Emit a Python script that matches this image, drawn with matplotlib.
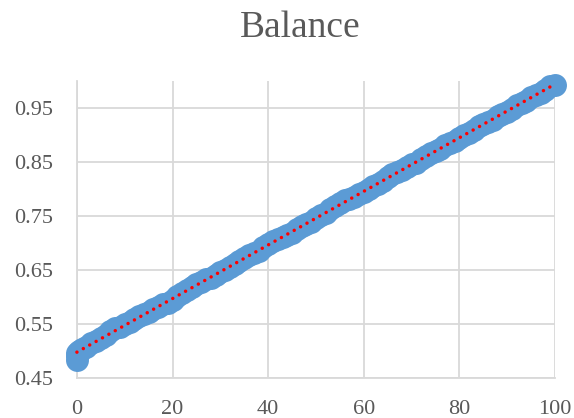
import matplotlib.pyplot as plt
import numpy as np

plt.rcParams['font.family'] = ['Liberation Serif', 'DejaVu Serif']

# balance readings, one per step
steps = list(range(0, 101))
balance = [
    0.497, 0.503, 0.507, 0.514, 0.518, 0.524, 0.530, 0.536, 0.542, 0.545,
    0.549, 0.553, 0.560, 0.564, 0.568, 0.572, 0.578, 0.581, 0.586, 0.589,
    0.595, 0.601, 0.607, 0.613, 0.618, 0.624, 0.627, 0.633, 0.636, 0.640,
    0.646, 0.649, 0.655, 0.661, 0.667, 0.673, 0.677, 0.681, 0.685, 0.692,
    0.698, 0.704, 0.707, 0.711, 0.715, 0.719, 0.726, 0.732, 0.735, 0.739,
    0.746, 0.752, 0.756, 0.763, 0.769, 0.775, 0.779, 0.782, 0.786, 0.790,
    0.794, 0.800, 0.806, 0.809, 0.815, 0.822, 0.828, 0.832, 0.836, 0.840,
    0.846, 0.849, 0.855, 0.862, 0.866, 0.870, 0.874, 0.881, 0.885, 0.889,
    0.895, 0.901, 0.904, 0.910, 0.916, 0.921, 0.924, 0.928, 0.935, 0.939,
    0.943, 0.949, 0.955, 0.959, 0.963, 0.970, 0.974, 0.978, 0.984, 0.990,
    0.993,
]
# extra readings taken at the start
start_steps = [0, 0, 0.5]
start_balance = [0.484, 0.490, 0.500]

xs = np.array(steps + start_steps, dtype=float)
ys = np.array(balance + start_balance)

fig = plt.figure(figsize=(5.74, 4.18), dpi=100)
ax = fig.add_axes([0.134, 0.096, 0.833, 0.71])

ax.plot(xs, ys, 'o', color='#5B9BD5', markersize=16.5, markeredgewidth=0,
        zorder=3, clip_on=False)

# linear trendline
k, b = np.polyfit(xs, ys, 1)
tx = np.array([0, 100])
ax.plot(tx, k * tx + b, color='#FF0000', linewidth=2.5,
        linestyle=(0, (0.01, 2.1)), dash_capstyle='round', zorder=4,
        clip_on=False)

ax.set_xlim(0, 100)
ax.set_ylim(0.45, 1.0)
ax.set_xticks(range(0, 101, 20))
ax.set_yticks([0.45, 0.55, 0.65, 0.75, 0.85, 0.95])
ax.set_yticklabels(['0.45', '0.55', '0.65', '0.75', '0.85', '0.95'])
ax.grid(True, color='#D9D9D9', linewidth=1.3)
ax.set_axisbelow(True)
for s in ['top', 'right']:
    ax.spines[s].set_visible(False)
for s in ['left', 'bottom']:
    ax.spines[s].set_color('#D9D9D9')
    ax.spines[s].set_linewidth(1.3)
ax.tick_params(length=0, labelsize=16, colors='#595959')
ax.tick_params(axis='x', pad=16)
ax.tick_params(axis='y', pad=17)

fig.suptitle('Balance', x=0.523, y=0.975, fontsize=27, color='#595959')

fig.savefig('out.png', dpi=100)
